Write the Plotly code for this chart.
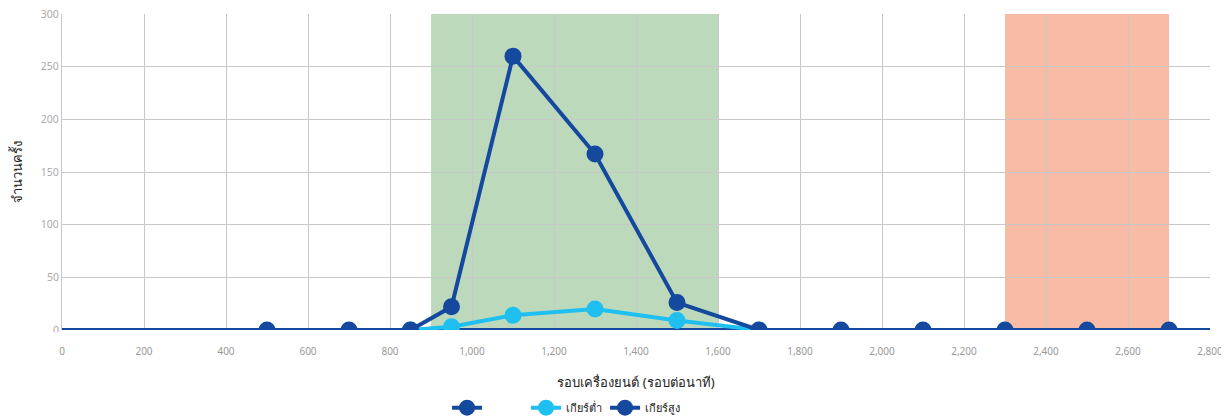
import plotly.graph_objects as go

# รอบเครื่องยนต์ (รอบต่อนาที)
rpm_ต่ำ = [850, 950, 1100, 1300, 1500, 1700]
ครั้ง_ต่ำ = [0, 3, 14, 20, 9, 0]

rpm_สูง = [500, 700, 850, 950, 1100, 1300, 1500, 1700, 1900, 2100, 2300, 2500, 2700]
ครั้ง_สูง = [0, 0, 0, 22, 260, 167, 26, 0, 0, 0, 0, 0, 0]

เส้นฐาน_x = [0, 2800]
เส้นฐาน_y = [0, 0]

ช่วงเขียว = [900, 1600]
ช่วงส้ม = [2300, 2700]

สีเข้ม = "#14499e"
สีอ่อน = "#1fbff0"
ฟอนต์ = "Noto Sans, DejaVu Sans, sans-serif"

fig = go.Figure()

# เส้นฐานที่ศูนย์ (ไม่มีชื่อในคำอธิบาย)
fig.add_trace(go.Scatter(
    x=เส้นฐาน_x, y=เส้นฐาน_y, mode="lines",
    line=dict(color=สีเข้ม, width=4),
    showlegend=False, hoverinfo="skip"
))
fig.add_trace(go.Scatter(
    x=[None], y=[None], mode="lines+markers", name=" ",
    line=dict(color=สีเข้ม, width=4),
    marker=dict(color=สีเข้ม, size=17)
))
fig.add_trace(go.Scatter(
    x=rpm_ต่ำ, y=ครั้ง_ต่ำ, mode="lines+markers", name="เกียร์ต่ำ",
    line=dict(color=สีอ่อน, width=4),
    marker=dict(color=สีอ่อน, size=17)
))
fig.add_trace(go.Scatter(
    x=rpm_สูง, y=ครั้ง_สูง, mode="lines+markers", name="เกียร์สูง",
    line=dict(color=สีเข้ม, width=4),
    marker=dict(color=สีเข้ม, size=17)
))

fig.add_vrect(x0=ช่วงเขียว[0], x1=ช่วงเขียว[1], fillcolor="#bdd9bc",
              opacity=1, line_width=0, layer="below")
fig.add_vrect(x0=ช่วงส้ม[0], x1=ช่วงส้ม[1], fillcolor="#f8bca6",
              opacity=1, line_width=0, layer="below")

# ตัดจุดที่ล้นใต้แกน x ให้เหลือครึ่งวงกลมเหมือนต้นฉบับ
fig.add_shape(type="rect", xref="paper", yref="paper",
              x0=-0.01, x1=1.01, y0=-0.035, y1=-0.007,
              fillcolor="white", line_width=0, layer="above")

# หน้าเว็บมีขอบ 8px จึงใช้ขนาด 1221x408
fig.update_layout(
    width=1221, height=408,
    margin=dict(l=54, r=19, t=6, b=86, autoexpand=False),
    plot_bgcolor="white", paper_bgcolor="white",
    font=dict(family=ฟอนต์, color="#333"),
    legend=dict(orientation="h", x=0.3354, xanchor="left", y=-0.2, yanchor="top",
                entrywidth=34, font=dict(size=11, color="#222")),
    xaxis=dict(
        range=[0, 2800], dtick=200, tickformat=",d",
        showgrid=True, gridcolor="#c8c8c8", gridwidth=1,
        zeroline=False, showline=False,
        ticklabelstandoff=14, ticklabeloverflow="allow",
        tickfont=dict(size=10, color="#999"),
        title=dict(text="รอบเครื่องยนต์ (รอบต่อนาที)", font=dict(size=13, color="#222"), standoff=20),
    ),
    yaxis=dict(
        range=[0, 300], dtick=50,
        showgrid=True, gridcolor="#c8c8c8", gridwidth=1,
        zeroline=False, showline=True, linecolor="#c8c8c8", linewidth=1,
        ticklabeloverflow="allow",
        tickfont=dict(size=10.5, color="#aaa"),
        title=dict(text="จำนวนครั้ง", font=dict(size=13, color="#222"), standoff=17),
    ),
)

fig.write_html("out.html")
